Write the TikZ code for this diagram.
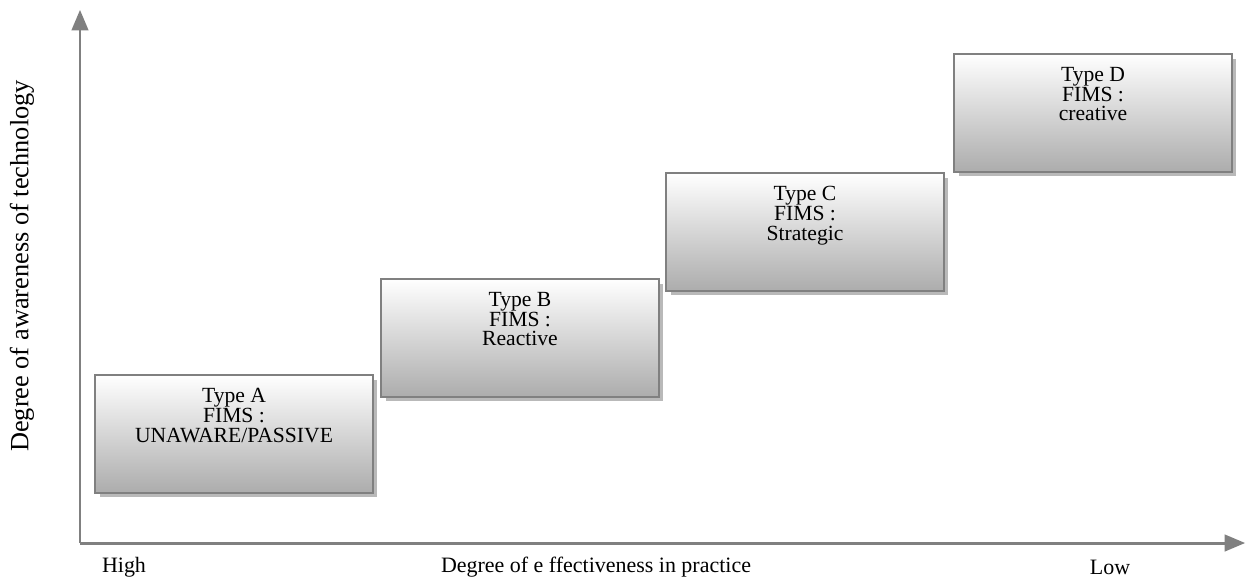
\documentclass[tikz,border=0pt]{standalone}
\usepackage{fontspec}
\setmainfont{Liberation Serif}
\usetikzlibrary{arrows,positioning,shadows}

\begin{document}
\begin{tikzpicture}[x=0.02cm,y=-0.02cm,
  typebox/.style={rectangle,draw=gray,line width=0.8pt,minimum width=5.56cm,minimum height=2.36cm,
    top color=white,bottom color=gray!65,
    drop shadow={shadow xshift=0.09cm,shadow yshift=-0.09cm,fill=gray!55,opacity=1}},
  typetext/.style={align=center,font=\fontsize{12.3}{11.2}\selectfont},
  axis/.style={draw=gray,line width=1.7pt,-triangle 45},
  axislabel/.style={font=\fontsize{12.5}{14}\selectfont}]
\useasboundingbox (0,0) rectangle (1247,582);
\coordinate (origin) at (80,543);
\coordinate (ytop)   at (80,10);
\coordinate (xend)   at (1245,543);
\draw [axis] (origin) -- (ytop);
\draw [axis] (origin) -- (xend);
\node (typeA) at (234,434) [typebox] {};
\node (typeB) at (520,338) [typebox] {};
\node (typeC) at (805,232) [typebox] {};
\node (typeD) at (1093,113) [typebox] {};
\node (textA) [typetext,below=4.5pt of typeA.north] {Type A\\FIMS :\\UNAWARE/PASSIVE};
\node (textB) [typetext,below=4.5pt of typeB.north] {Type B\\FIMS :\\Reactive};
\node (textC) [typetext,below=4.5pt of typeC.north] {Type C\\FIMS :\\Strategic};
\node (textD) [typetext,below=4.5pt of typeD.north] {Type D\\FIMS :\\creative};
\node (yname) at (22,266) [axislabel,font=\fontsize{15}{17}\selectfont,rotate=90] {Degree of awareness of technology};
\node (high)  at (124,567) [axislabel] {High};
\node (xname) at (596,567) [axislabel] {Degree of e ffectiveness in practice};
\node (low)   at (1110,567) [axislabel] {Low};
\end{tikzpicture}
\end{document}
